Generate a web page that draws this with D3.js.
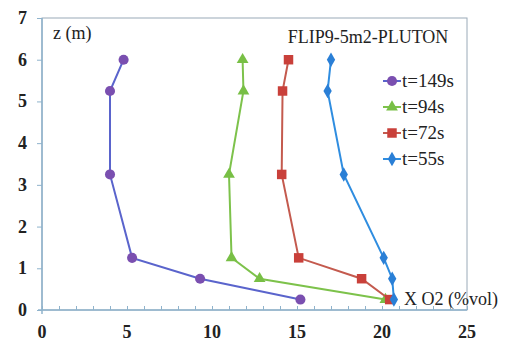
<!DOCTYPE html>
<html>
<head>
<meta charset="utf-8">
<script src="https://cdn.jsdelivr.net/npm/d3@7"></script>
<style>
body { margin: 0; background: #fff; }
</style>
</head>
<body>
<div id="chart-area"></div>
<script>
// z levels (m) and oxygen fraction for each time
const zLevels = [6, 5.25, 3.25, 1.25, 0.75, 0.25]
const o2_149 = [4.8, 4.0, 4.0, 5.3, 9.3, 15.2]
const o2_94 = [11.8, 11.85, 11.0, 11.15, 12.8, 20.2]
const o2_72 = [14.5, 14.15, 14.1, 15.1, 18.8, 20.45]
const o2_55 = [17.0, 16.8, 17.75, 20.1, 20.6, 20.7]
const seriesNames = ["t=149s", "t=94s", "t=72s", "t=55s"]
const xTicks = [0, 5, 10, 15, 20, 25]
const yTicks = [0, 1, 2, 3, 4, 5, 6, 7]

const MARGIN = { LEFT: 42, RIGHT: 38, TOP: 18, BOTTOM: 32 }
const WIDTH = 505 - MARGIN.LEFT - MARGIN.RIGHT
const HEIGHT = 342 - MARGIN.TOP - MARGIN.BOTTOM
const FONT = "Times, Tinos, serif"

const svg = d3.select("#chart-area").append("svg")
    .attr("width", 505)
    .attr("height", 342)

const g = svg.append("g")
    .attr("transform", `translate(${MARGIN.LEFT}, ${MARGIN.TOP})`)

// Scales
const x = d3.scaleLinear().range([0, WIDTH]).domain([0, 25])
const y = d3.scaleLinear().range([HEIGHT, 0]).domain([0, 7])

const axisColor = "#8fb3cc"

// frame
g.append("rect")
    .attr("x", 0).attr("y", 0)
    .attr("width", WIDTH).attr("height", HEIGHT)
    .attr("fill", "none")
    .attr("stroke", "#9aaab8")
    .attr("stroke-width", 1)

// X axis with minor ticks pointing up
const xAxisCall = d3.axisBottom(x).tickValues(d3.range(0, 26, 1)).tickSize(-4).tickFormat("")
const xAxis = g.append("g")
    .attr("transform", `translate(0, ${HEIGHT})`)
    .call(xAxisCall)
xAxis.select(".domain").remove()
xAxis.selectAll("line").attr("stroke", axisColor)
g.append("line")
    .attr("x1", -4).attr("x2", WIDTH)
    .attr("y1", HEIGHT).attr("y2", HEIGHT)
    .attr("stroke", axisColor).attr("stroke-width", 1.5)

g.selectAll(".xlab").data(xTicks).enter().append("text")
    .attr("class", "xlab")
    .attr("x", d => x(d))
    .attr("y", HEIGHT + 28)
    .attr("text-anchor", "middle")
    .attr("font-family", FONT)
    .attr("font-size", "18px")
    .attr("font-weight", "bold")
    .attr("fill", "#222")
    .text(d => d)

// Y axis
const yAxisCall = d3.axisLeft(y).tickValues(yTicks).tickSize(5).tickFormat("")
const yAxis = g.append("g").call(yAxisCall)
yAxis.select(".domain").remove()
yAxis.selectAll("line").attr("stroke", axisColor)
g.append("line")
    .attr("x1", 0).attr("x2", 0)
    .attr("y1", 0).attr("y2", HEIGHT + 4)
    .attr("stroke", axisColor).attr("stroke-width", 1.5)

g.selectAll(".ylab").data(yTicks).enter().append("text")
    .attr("class", "ylab")
    .attr("x", -15)
    .attr("y", d => y(d) + 6)
    .attr("text-anchor", "end")
    .attr("font-family", FONT)
    .attr("font-size", "18px")
    .attr("font-weight", "bold")
    .attr("fill", "#222")
    .text(d => d)

// Labels
g.append("text")
    .attr("x", 11).attr("y", 21)
    .attr("font-family", FONT)
    .attr("font-size", "18px")
    .attr("fill", "#222")
    .text("z (m)")
g.append("text")
    .attr("x", 368 - MARGIN.LEFT).attr("y", 43 - MARGIN.TOP)
    .attr("text-anchor", "middle")
    .attr("font-family", FONT)
    .attr("font-size", "18px")
    .attr("fill", "#222")
    .text("FLIP9-5m2-PLUTON")
g.append("text")
    .attr("x", 404 - MARGIN.LEFT).attr("y", 305 - MARGIN.TOP)
    .attr("font-family", FONT)
    .attr("font-size", "18px")
    .attr("fill", "#222")
    .text("X O2 (%vol)")

// Series
const series = [
    { name: seriesNames[0], values: o2_149, line: "#5a64cc", fill: "#7a4fb0", shape: d3.symbolCircle, size: 80 },
    { name: seriesNames[1], values: o2_94, line: "#7dc24b", fill: "#78bf45", shape: d3.symbolTriangle, size: 60 },
    { name: seriesNames[2], values: o2_72, line: "#c45a4e", fill: "#c9403a", shape: d3.symbolSquare, size: 90 },
    { name: seriesNames[3], values: o2_55, line: "#2f8de0", fill: "#2a7fd6", shape: d3.symbolDiamond, size: 60 }
]

const line = d3.line().x(d => x(d[0])).y(d => y(d[1]))

series.forEach(s => {
    const pts = s.values.map((v, i) => [v, zLevels[i]])
    g.append("path")
        .datum(pts)
        .attr("d", line)
        .attr("fill", "none")
        .attr("stroke", s.line)
        .attr("stroke-width", 2)
    g.selectAll(null).data(pts).enter().append("path")
        .attr("transform", d => `translate(${x(d[0])}, ${y(d[1])})`)
        .attr("d", d3.symbol().type(s.shape).size(s.size))
        .attr("fill", s.fill)
})

// Legend
const legend = g.append("g")
    .attr("transform", `translate(${383 - MARGIN.LEFT}, ${81 - MARGIN.TOP})`)
series.forEach((s, i) => {
    const row = legend.append("g").attr("transform", `translate(0, ${i * 26})`)
    row.append("line")
        .attr("x1", 0).attr("x2", 18)
        .attr("stroke", s.line).attr("stroke-width", 2)
    row.append("path")
        .attr("transform", "translate(9, 0)")
        .attr("d", d3.symbol().type(s.shape).size(s.size))
        .attr("fill", s.fill)
    row.append("text")
        .attr("x", 19).attr("y", 6)
        .attr("font-family", FONT)
        .attr("font-size", "19px")
        .attr("fill", "#222")
        .text(s.name)
})
</script>
</body>
</html>
